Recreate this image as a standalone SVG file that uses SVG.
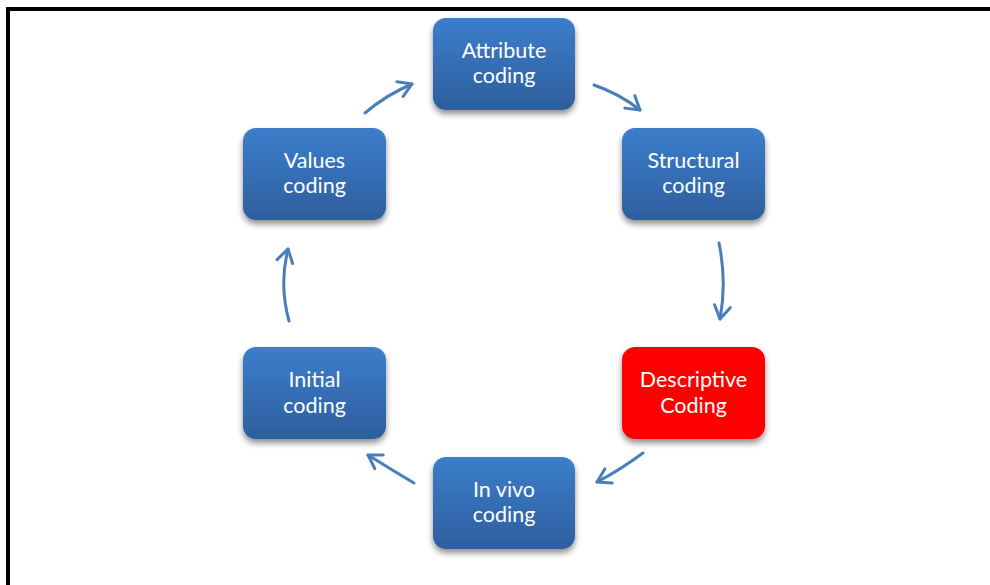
<svg xmlns="http://www.w3.org/2000/svg" width="990" height="585" viewBox="0 0 990 585">
<defs>
<linearGradient id="blueGrad" x1="0" y1="0" x2="0" y2="1">
<stop offset="0" stop-color="#3C7ECC"/>
<stop offset="1" stop-color="#2E5E9E"/>
</linearGradient>
<filter id="shadow" x="-20%" y="-20%" width="140%" height="150%">
<feGaussianBlur in="SourceAlpha" stdDeviation="3"/>
<feOffset dx="0" dy="4" result="b"/>
<feComponentTransfer><feFuncA type="linear" slope="0.45"/></feComponentTransfer>
<feMerge><feMergeNode/><feMergeNode in="SourceGraphic"/></feMerge>
</filter>
<marker id="arrow" markerUnits="userSpaceOnUse" markerWidth="30" markerHeight="30" refX="0" refY="0" viewBox="-16 -15 30 30" orient="auto" overflow="visible">
<path d="M-13,-8 L0,0 L-13,8" fill="none" stroke="#4A7EBB" stroke-width="3" stroke-linecap="round" stroke-linejoin="round"/>
</marker>
<style>
.box{fill:url(#blueGrad);filter:url(#shadow);}
.red{fill:#FF0000;filter:url(#shadow);}
.lbl{font-family:Lato,"Open Sans","Liberation Sans",sans-serif;font-size:21.5px;fill:#FFFFFF;text-anchor:middle;}
.conn{fill:none;stroke:#4A7EBB;stroke-width:3;stroke-linecap:round;marker-end:url(#arrow);}
</style>
</defs>
<rect width="990" height="585" fill="#FFFFFF"/>
<g id="frame">
<rect x="6" y="7" width="984" height="4" fill="#000000"/>
<rect x="6" y="7" width="4" height="578" fill="#000000"/>
</g>
<g id="connectors">
<path class="conn" d="M365,113 Q386,95 412,84"/>
<path class="conn" d="M594,85 Q620,94 640,110"/>
<path class="conn" d="M719,243 Q727,282 720,319"/>
<path class="conn" d="M643,453 Q620,470 597,482"/>
<path class="conn" d="M414,483 Q392,470 368,455"/>
<path class="conn" d="M289,321 Q279,285 288,249"/>
</g>
<g id="attribute">
<rect class="box" x="433" y="18" width="142" height="92" rx="13"/>
<text class="lbl" x="504" y="58">Attribute</text>
<text class="lbl" x="504" y="83">coding</text>
</g>
<g id="structural">
<rect class="box" x="622" y="128" width="143" height="92" rx="13"/>
<text class="lbl" x="693.5" y="168">Structural</text>
<text class="lbl" x="693.5" y="193">coding</text>
</g>
<g id="descriptive">
<rect class="red" x="622" y="347" width="143" height="92" rx="13"/>
<text class="lbl" x="693.5" y="387">Descriptive</text>
<text class="lbl" x="693.5" y="413">Coding</text>
</g>
<g id="invivo">
<rect class="box" x="433" y="457" width="142" height="92" rx="13"/>
<text class="lbl" x="504" y="497">In vivo</text>
<text class="lbl" x="504" y="522">coding</text>
</g>
<g id="initial">
<rect class="box" x="243" y="347" width="143" height="92" rx="13"/>
<text class="lbl" x="314.5" y="387">Initial</text>
<text class="lbl" x="314.5" y="413">coding</text>
</g>
<g id="values">
<rect class="box" x="243" y="128" width="143" height="92" rx="13"/>
<text class="lbl" x="314.5" y="168">Values</text>
<text class="lbl" x="314.5" y="193">coding</text>
</g>
</svg>
